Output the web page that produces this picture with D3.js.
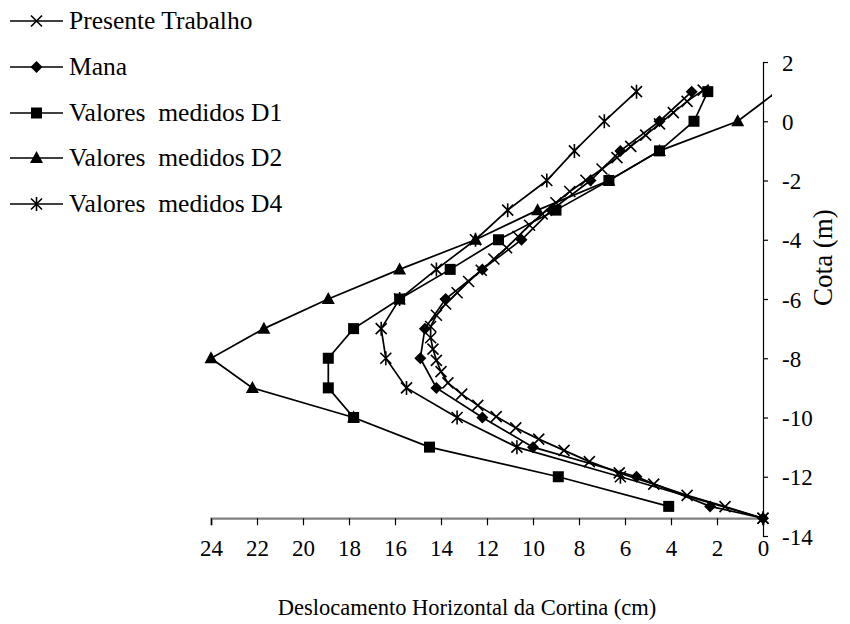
<!DOCTYPE html>
<html>
<head>
<meta charset="utf-8">
<script src="https://cdn.jsdelivr.net/npm/d3@7"></script>
<style>
  html, body { margin: 0; padding: 0; background: #fff; }
  svg { display: block; }
  text { font-family: "Liberation Serif", "DejaVu Serif", serif; fill: #000; }
</style>
</head>
<body>
<svg id="chart" width="850" height="624"></svg>
<script>
// ---- Data ----
const xTicks = [24, 22, 20, 18, 16, 14, 12, 10, 8, 6, 4, 2, 0];
const yTicks = [2, 0, -2, -4, -6, -8, -10, -12, -14];

// Presente Trabalho: [deslocamento (cm), cota (m)]
const presenteTrabalho = [
  [2.6, 1.05], [3.3, 0.67], [3.9, 0.29], [4.5, -0.09], [5.1, -0.47], [5.75, -0.85],
  [6.35, -1.23], [7.0, -1.61], [7.7, -1.99], [8.4, -2.37], [9.0, -2.75], [9.6, -3.13],
  [10.15, -3.51], [10.65, -3.89], [11.15, -4.27], [11.7, -4.65], [12.25, -5.03],
  [12.8, -5.41], [13.3, -5.79], [13.8, -6.17], [14.2, -6.55], [14.45, -6.93],
  [14.45, -7.31], [14.35, -7.69], [14.2, -8.07], [14.0, -8.45], [13.7, -8.83],
  [13.1, -9.21], [12.4, -9.59], [11.6, -9.97], [10.75, -10.35], [9.75, -10.73],
  [8.65, -11.11], [7.55, -11.49], [6.25, -11.87], [4.75, -12.25], [3.3, -12.63],
  [1.65, -13.01], [0, -13.4]
];
const mana = [
  [3.1, 1], [4.5, 0], [6.2, -1], [7.5, -2], [9.2, -3], [10.5, -4], [12.2, -5],
  [13.8, -6], [14.7, -7], [14.9, -8], [14.2, -9], [12.2, -10], [10.0, -11],
  [5.5, -12], [2.3, -13], [0, -13.4]
];
const medidosD1 = [
  [2.4, 1], [3.0, 0], [4.5, -1], [6.7, -2], [9.0, -3], [11.5, -4], [13.6, -5],
  [15.8, -6], [17.8, -7], [18.9, -8], [18.9, -9], [17.8, -10], [14.5, -11],
  [8.9, -12], [4.1, -13]
];
const medidosD2 = [
  [-0.6, 1], [1.1, 0], [4.5, -1], [6.7, -2], [9.8, -3], [12.5, -4], [15.8, -5],
  [18.9, -6], [21.7, -7], [24.0, -8], [22.2, -9], [17.8, -10]
];
const medidosD4 = [
  [5.5, 1], [6.9, 0], [8.2, -1], [9.4, -2], [11.1, -3], [12.5, -4], [14.2, -5],
  [15.8, -6], [16.6, -7], [16.4, -8], [15.5, -9], [13.3, -10], [10.7, -11],
  [6.2, -12], [0, -13.4]
];
const seriesNames = ["Presente Trabalho", "Mana", "Valores\u00a0 medidos D1", "Valores\u00a0 medidos D2", "Valores\u00a0 medidos D4"];
const seriesData = [presenteTrabalho, mana, medidosD1, medidosD2, medidosD4];
const seriesMarkers = ["x", "diamond", "square", "triangle", "asterisk"];
const xAxisTitle = "Deslocamento Horizontal da Cortina (cm)";
const yAxisTitle = "Cota (m)";
const axisCross = -13.4;

// ---- Chart ----
const svg = d3.select("#chart");
const x = d3.scaleLinear().domain([0, 24]).range([763, 211]);
const y = d3.scaleLinear().domain([-14, 2]).range([536, 62]);
const TICK_FS = 23;
const LEGEND_FS = 25.5;

svg.append("defs").append("clipPath").attr("id", "plotClip")
  .append("rect").attr("x", 0).attr("y", 0).attr("width", 772).attr("height", 624);

// X axis (gray line, ticks down)
const gx = svg.append("g").attr("transform", `translate(0,${y(axisCross)})`)
  .call(d3.axisBottom(x).tickValues(xTicks).tickSize(7).tickPadding(20).tickFormat(d => String(d)));
gx.attr("font-family", null).attr("font-size", null);
gx.select(".domain").attr("stroke", "#808080").attr("stroke-width", 2.2);
gx.selectAll(".tick line").attr("stroke", "#000").attr("stroke-width", 1.2);
gx.selectAll(".tick text").style("font-size", TICK_FS + "px").attr("dy", "0.45em");

// Y axis (black line at x=0, ticks right)
const gy = svg.append("g").attr("transform", `translate(${x(0)},0)`)
  .call(d3.axisRight(y).tickValues(yTicks).tickSize(5).tickPadding(14).tickFormat(d => d < 0 ? "-" + Math.abs(d) : String(d)));
gy.attr("font-family", null).attr("font-size", null);
gy.select(".domain").attr("stroke", "#000").attr("stroke-width", 1.2);
gy.selectAll(".tick line").attr("stroke", "#000").attr("stroke-width", 1.2);
gy.selectAll(".tick text").style("font-size", TICK_FS + "px").attr("dy", "0.35em");

// Axis titles
svg.append("text").attr("x", 467).attr("y", 615).attr("text-anchor", "middle")
  .style("font-size", "22.5px").text(xAxisTitle);
svg.append("text").attr("transform", `translate(832,${y(-4.6)}) rotate(-90)`)
  .attr("text-anchor", "middle").style("font-size", "27px").text(yAxisTitle);

// Markers
function drawMarker(g, type, cx, cy) {
  const s = 5.5;
  if (type === "square") {
    g.append("rect").attr("x", cx - s).attr("y", cy - s).attr("width", 2 * s).attr("height", 2 * s).attr("fill", "#000");
  } else if (type === "diamond") {
    g.append("path").attr("d", `M${cx},${cy - 6}L${cx + 6},${cy}L${cx},${cy + 6}L${cx - 6},${cy}Z`).attr("fill", "#000");
  } else if (type === "triangle") {
    g.append("path").attr("d", `M${cx},${cy - 7}L${cx + 6.5},${cy + 5}L${cx - 6.5},${cy + 5}Z`).attr("fill", "#000");
  } else if (type === "x") {
    g.append("path").attr("d", `M${cx - 5.5},${cy - 5.5}L${cx + 5.5},${cy + 5.5}M${cx - 5.5},${cy + 5.5}L${cx + 5.5},${cy - 5.5}`)
      .attr("stroke", "#000").attr("stroke-width", 1.6).attr("fill", "none");
  } else if (type === "asterisk") {
    g.append("path").attr("d", `M${cx - 5.5},${cy - 5.5}L${cx + 5.5},${cy + 5.5}M${cx - 5.5},${cy + 5.5}L${cx + 5.5},${cy - 5.5}M${cx},${cy - 7}L${cx},${cy + 7}`)
      .attr("stroke", "#000").attr("stroke-width", 1.6).attr("fill", "none");
  }
}

const line = d3.line().x(d => x(d[0])).y(d => y(d[1]));
const plot = svg.append("g").attr("clip-path", "url(#plotClip)");
seriesData.forEach((data, i) => {
  const g = plot.append("g");
  g.append("path").datum(data).attr("d", line).attr("fill", "none").attr("stroke", "#000").attr("stroke-width", 1.7);
  data.forEach(d => drawMarker(g, seriesMarkers[i], x(d[0]), y(d[1])));
});

// Legend
const legendRows = [21, 67, 113, 158, 204];
seriesNames.forEach((name, i) => {
  const g = svg.append("g");
  const ly = legendRows[i];
  g.append("line").attr("x1", 10).attr("x2", 63).attr("y1", ly).attr("y2", ly).attr("stroke", "#000").attr("stroke-width", 1.7);
  drawMarker(g, seriesMarkers[i], 36.5, ly);
  g.append("text").attr("x", 69).attr("y", ly + 8).style("font-size", LEGEND_FS + "px").text(name);
});
</script>
</body>
</html>
